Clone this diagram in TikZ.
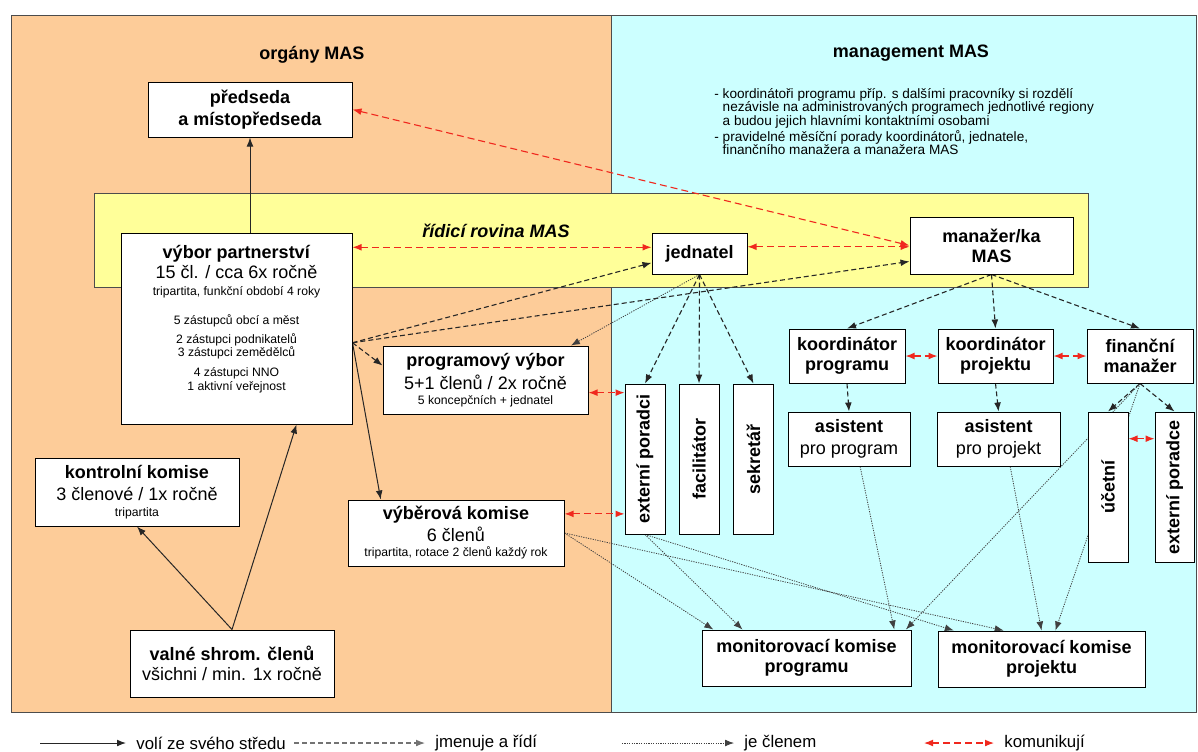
\documentclass[tikz,border=0pt]{standalone}
\usepackage{fontspec}
\setmainfont{Liberation Sans}
\usepackage{graphicx}
\usetikzlibrary{calc,arrows.meta}

\pgfdeclarelayer{background}
\pgfdeclarelayer{edges}
\pgfsetlayers{background,edges,main}

\definecolor{organy}{RGB}{253,204,153}
\definecolor{mgmt}{RGB}{204,255,255}
\definecolor{rovina}{RGB}{255,255,153}
\definecolor{komred}{RGB}{240,40,30}

\newcommand{\bigf}{\fontsize{9}{10}\selectfont}
\newcommand{\smallf}{\fontsize{6.1}{7}\selectfont}
\newcommand{\legf}{\fontsize{8.4}{10}\selectfont}

\tikzset{
  tip/.tip={Latex[length=4.5pt,width=3.4pt]},
  whitebox/.style={draw=black, fill=white, line width=0.5pt, align=center,
    inner sep=1pt, font=\bigf},
  vertbox/.style={whitebox, minimum width=20pt, minimum height=75pt},
  voli/.style={-tip, line width=0.5pt, black!85},
  jmenuje/.style={-tip, line width=0.55pt, dash pattern=on 2.5pt off 1.5pt, black!85},
  clen/.style={-tip, line width=0.4pt, dash pattern=on 0.6pt off 0.6pt, black!75},
  komun/.style={tip-tip, line width=0.55pt, dash pattern=on 3.5pt off 2pt, komred},
  legtext/.style={anchor=west, font=\legf, inner xsep=5pt, inner ysep=0pt}
}

\begin{document}
\begin{tikzpicture}[x=0.5pt,y=-0.5pt]
  \useasboundingbox (0,0) rectangle (1198,751);

  %% panels
  \begin{pgfonlayer}{background}
    \fill[white] (0,0) rectangle (1198,751);
    \filldraw[fill=organy, draw=black!70, line width=0.5pt] (11,15) rectangle (611,712);
    \filldraw[fill=mgmt, draw=black!70, line width=0.5pt] (611,15) rectangle (1196,712);
    \filldraw[fill=rovina, draw=black!70, line width=0.5pt] (94,193) rectangle (1088,287);
  \end{pgfonlayer}

  \node[font=\bigf\bfseries] (organyT) at (312,55) {orgány MAS};
  \node[font=\bigf\bfseries] (mgmtT) at (911,53) {management MAS};
  \node[font=\fontsize{6.8}{6.7}\selectfont, align=left, anchor=north west, inner sep=0pt]
    (mgmtNote) at (714,88)
    {- koordinátoři programu příp. s dalšími pracovníky si rozdělí\\
     \hphantom{- }nezávisle na administrovaných programech jednotlivé regiony\\
     \hphantom{- }a budou jejich hlavními kontaktními osobami\\
     - pravidelné měsíční porady koordinátorů, jednatele,\\
     \hphantom{- }finančního manažera a manažera MAS};
  \node[font=\bigf\bfseries\itshape] (rovinaT) at (496,231) {řídicí rovina MAS};

  %% organy MAS
  \node[whitebox, font=\bigf\bfseries, minimum width=102pt, minimum height=27.5pt]
    (predseda) at (250,109.5) {předseda\\[1pt]a místopředseda};
  \node[whitebox, minimum width=115.5pt, minimum height=95.5pt] (vybor) at (236.5,328.5)
    {\textbf{výbor partnerství}\\
     15 čl. / cca 6x ročně\\[-1.5pt]
     {\smallf tripartita, funkční období 4 roky}\\[4.5pt]
     {\smallf 5 zástupců obcí a měst}\\[-0.5pt]
     {\smallf 2 zástupci podnikatelů}\\[-3.5pt]
     {\smallf 3 zástupci zemědělců}\\
     {\smallf 4 zástupci NNO}\\[-3pt]
     {\smallf 1 aktivní veřejnost}\\[1pt]
     \mbox{}};
  \node[whitebox, minimum width=102.5pt, minimum height=34pt] (program) at (485.5,380)
    {\textbf{programový výbor}\\[1.5pt]
     5+1 členů / 2x ročně\\[-2.5pt]
     {\smallf 5 koncepčních + jednatel}};
  \node[whitebox, minimum width=102pt, minimum height=34pt] (kontrolni) at (137,492)
    {\textbf{kontrolní komise}\\[1pt]
     3 členové / 1x ročně\\[-2pt]
     {\smallf tripartita}};
  \node[whitebox, minimum width=108pt, minimum height=33pt] (vyber) at (456,533)
    {\textbf{výběrová komise}\\[1pt]
     6 členů\\[-2.5pt]
     {\smallf tripartita, rotace 2 členů každý rok}};
  \node[whitebox, minimum width=102pt, minimum height=33.5pt] (valne) at (232,663.5)
    {\textbf{valné shrom. členů}\\
     všichni / min. 1x ročně};

  %% management MAS
  \node[whitebox, font=\bigf\bfseries, minimum width=47.5pt, minimum height=20.5pt]
    (jednatel) at (699.5,253.5) {jednatel};
  \node[whitebox, font=\bigf\bfseries, minimum width=81.5pt, minimum height=28.5pt]
    (manazer) at (991.5,245.5) {manažer/ka\\MAS};
  \node[whitebox, font=\bigf\bfseries, minimum width=58pt, minimum height=27pt]
    (koordprog) at (847,356) {koordinátor\\programu};
  \node[whitebox, font=\bigf\bfseries, minimum width=57.5pt, minimum height=27pt]
    (koordproj) at (995.5,356) {koordinátor\\projektu};
  \node[whitebox, font=\bigf\bfseries, minimum width=53pt, minimum height=27pt]
    (financni) at (1140,356) {finanční\\manažer};
  \node[whitebox, minimum width=61pt, minimum height=27pt] (asistprog) at (849,439)
    {\textbf{asistent}\\[1pt]pro program};
  \node[whitebox, minimum width=61.5pt, minimum height=27pt] (asistproj) at (998.5,439)
    {\textbf{asistent}\\[1pt]pro projekt};
  \node[vertbox] (poradci) at (645,459) {\rotatebox{90}{\textbf{externí poradci}}};
  \node[vertbox] (facil) at (699,459) {\rotatebox{90}{\textbf{facilitátor}}};
  \node[vertbox] (sekretar) at (753.5,459) {\rotatebox{90}{\textbf{sekretář}}};
  \node[vertbox] (ucetni) at (1108,487) {\rotatebox{90}{\textbf{účetní}}};
  \node[vertbox, minimum width=19.5pt] (extporadce) at (1174.5,487)
    {\rotatebox{90}{\textbf{externí poradce}}};
  \node[whitebox, font=\bigf\bfseries, minimum width=104.5pt, minimum height=28pt]
    (monprog) at (806.5,658) {monitorovací komise\\programu};
  \node[whitebox, font=\bigf\bfseries, minimum width=103.5pt, minimum height=28pt]
    (monproj) at (1041.5,659) {monitorovací komise\\projektu};

  \begin{pgfonlayer}{edges}
    %% voli ze sveho stredu
    \draw[voli] (vybor.north -| predseda.south) -- (predseda.south);
    \draw[voli] (valne.north) -- (kontrolni.south);
    \draw[voli] (valne.north) -- (vybor.-58);
    \draw[voli] (vybor.-7) -- (vyber.156);

    %% jmenuje a ridi
    \draw[jmenuje] (vybor.-7) -- (jednatel.191);
    \draw[jmenuje] (vybor.-7) -- (manazer.191);
    \draw[jmenuje] (vybor.-7) -- (program.172);
    \foreach \n in {poradci,facil,sekretar}
      \draw[jmenuje] (jednatel.south) -- (\n.north);
    \foreach \n in {koordprog,koordproj,financni}
      \draw[jmenuje] (manazer.south) -- (\n.north);
    \draw[jmenuje] (koordprog.south) -- (asistprog.north);
    \draw[jmenuje] (koordproj.south) -- (asistproj.north);
    \draw[jmenuje] (financni.south) -- (ucetni.north);
    \draw[jmenuje] (financni.south) -- (extporadce.north);

    %% je clenem
    \draw[clen] (jednatel.south) -- (program.22);
    \draw[clen] (vyber.east) -- (monprog.163);
    \draw[clen] (vyber.east) -- (monproj.143);
    \draw[clen] (poradci.south) -- (monprog.156);
    \draw[clen] (poradci.south) -- (monproj.162);
    \draw[clen] (asistprog.-68) -- (monprog.18);
    \draw[clen] (asistproj.-67) -- (monproj.north);
    \draw[clen] (financni.south) -- (monprog.16);
    \draw[clen] (financni.south) -- (monproj.64);

    %% komunikuji
    \draw[komun] (predseda.east) -- (manazer.west);
    \draw[komun] (vybor.35) -- (vybor.35 -| jednatel.west);
    \draw[komun] (jednatel.8) -- (jednatel.8 -| manazer.west);
    \draw[komun] (program.-7) -- (program.-7 -| poradci.west);
    \draw[komun] (vyber.10) -- (vyber.10 -| poradci.west);
    \draw[komun] (koordprog.east) -- (koordproj.west);
    \draw[komun] (koordproj.east) -- (financni.west);
    \draw[komun] (ucetni.67) -- (ucetni.67 -| extporadce.west);
  \end{pgfonlayer}

  %% legend
  \coordinate (lg1) at (40,743);
  \node[legtext] (lg1T) at (126,743) {volí ze svého středu};
  \draw[voli] (lg1) -- (lg1T.west);
  \coordinate (lg2) at (294,743);
  \node[legtext] (lg2T) at (425,743) {jmenuje a řídí};
  \draw[jmenuje, black!55] (lg2) -- (lg2T.west);
  \coordinate (lg3) at (622,743);
  \node[legtext] (lg3T) at (734,743) {je členem};
  \draw[clen] (lg3) -- (lg3T.west);
  \coordinate (lg4) at (924,743);
  \node[legtext] (lg4T) at (994,743) {komunikují};
  \draw[komun] (lg4) -- (lg4T.west);
\end{tikzpicture}
\end{document}
